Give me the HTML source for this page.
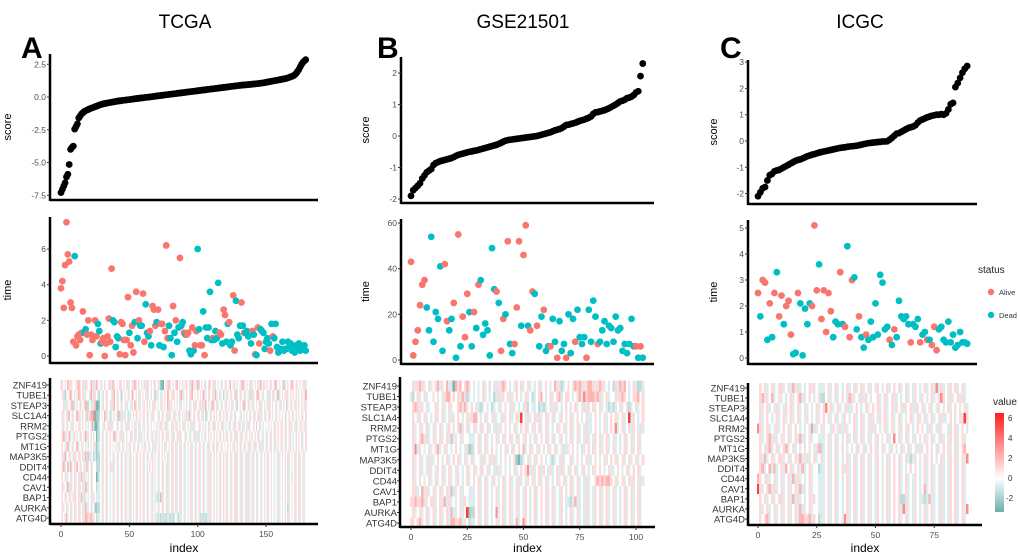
<!DOCTYPE html>
<html><head><meta charset="utf-8"><style>
html,body{margin:0;padding:0;background:#fff;}
svg{display:block;font-family:"Liberation Sans",sans-serif;}
</style></head><body>
<svg id="fig" width="1020" height="559" viewBox="0 0 1020 559" xmlns="http://www.w3.org/2000/svg">
<defs>
<linearGradient id="cbar" x1="0" y1="1" x2="0" y2="0">
<stop offset="0" stop-color="#6aafaf"/>
<stop offset="0.34" stop-color="#ffffff"/>
<stop offset="1" stop-color="#ff1f1f"/>
</linearGradient>
</defs>
<text x="185" y="28" font-size="19" text-anchor="middle">TCGA</text>
<text x="523" y="28" font-size="19" text-anchor="middle">GSE21501</text>
<text x="860" y="28" font-size="19" text-anchor="middle">ICGC</text>
<text x="21" y="58" font-size="30" font-weight="bold">A</text>
<text x="377" y="58" font-size="30" font-weight="bold">B</text>
<text x="720" y="58" font-size="30" font-weight="bold">C</text>
<g>
<text x="978" y="273" font-size="10" fill="#222">status</text>
<circle cx="991" cy="292" r="3.2" fill="#F8766D"/>
<text x="999" y="295" font-size="7.5" fill="#333">Alive</text>
<circle cx="991" cy="315" r="3.2" fill="#00BFC4"/>
<text x="999" y="318" font-size="7.5" fill="#333">Dead</text>
</g>
<g>
<text x="993" y="405" font-size="10" fill="#222">value</text>
<rect x="995" y="413" width="9" height="99" fill="url(#cbar)"/>
<text x="1008" y="421" font-size="8" fill="#333">6</text>
<text x="1008" y="441" font-size="8" fill="#333">4</text>
<text x="1008" y="461" font-size="8" fill="#333">2</text>
<text x="1008" y="481" font-size="8" fill="#333">0</text>
<text x="1006" y="501" font-size="8" fill="#333">-2</text>
</g>
<g id="plots"></g>
</svg>
<script>
const genes = ["ZNF419","TUBE1","STEAP3","SLC1A4","RRM2","PTGS2","MT1G","MAP3K5","DDIT4","CD44","CAV1","BAP1","AURKA","ATG4D"];
const levelValues = [-3,-2,-1.3,-0.6,0,0.8,1.8,3,5.5];

const scoreA = [-7.3,-7.05,-6.8,-6.55,-6.1,-5.9,-5.15,-4.0,-3.85,-3.75,
-2.45,-2.25,-2.05,-1.6,-1.45,-1.3,-1.2,-1.1,-1.05,-1.0,
-0.95,-0.9,-0.86,-0.82,-0.78,-0.74,-0.7,-0.66,-0.62,-0.58,
-0.55,-0.52,-0.5,-0.48,-0.46,-0.44,-0.42,-0.4,-0.38,-0.36,
-0.34,-0.32,-0.3,-0.29,-0.28,-0.26,-0.25,-0.24,-0.22,-0.21,
-0.2,-0.18,-0.17,-0.15,-0.14,-0.12,-0.11,-0.1,-0.08,-0.07,
-0.06,-0.05,-0.03,-0.02,-0.01,0.0,0.02,0.03,0.05,0.06,
0.08,0.09,0.1,0.12,0.13,0.14,0.16,0.17,0.18,0.2,
0.21,0.22,0.24,0.25,0.26,0.28,0.29,0.3,0.32,0.33,
0.34,0.36,0.37,0.38,0.4,0.41,0.42,0.44,0.45,0.46,
0.48,0.49,0.5,0.52,0.53,0.54,0.56,0.57,0.58,0.6,
0.61,0.62,0.64,0.65,0.66,0.68,0.69,0.7,0.72,0.73,
0.74,0.76,0.77,0.78,0.8,0.81,0.82,0.84,0.85,0.86,
0.88,0.89,0.9,0.91,0.92,0.93,0.94,0.95,0.96,0.97,
0.98,0.99,1.0,1.01,1.02,1.04,1.05,1.07,1.08,1.1,
1.12,1.14,1.16,1.18,1.2,1.22,1.24,1.26,1.28,1.3,
1.32,1.34,1.36,1.38,1.4,1.43,1.46,1.5,1.54,1.58,
1.62,1.7,1.8,1.95,2.1,2.3,2.5,2.65,2.75,2.85];
const timeA = [3.8,4.2,2.7,5.1,7.5,5.7,5.3,3.0,2.7,0.8,
5.6,0.6,1.1,1.2,0.9,1.3,2.5,1.3,1.5,1.2,
2.0,0.05,1.2,0.9,1.1,2.0,1.1,1.8,1.4,0.7,
0.8,1.0,0.0,0.7,1.1,2.1,0.8,4.9,2.0,1.9,
0.5,1.1,1.0,0.1,1.9,1.8,0.9,0.05,0.9,3.3,
1.3,0.6,1.7,0.2,1.9,3.6,1.0,2.0,1.7,1.7,
3.5,0.8,2.9,1.3,1.1,1.4,0.6,2.8,2.6,1.7,
1.9,2.6,0.6,1.8,1.8,0.5,1.4,6.2,1.0,1.7,
1.0,0.05,2.8,1.3,2.0,0.8,1.6,5.5,1.7,1.9,
1.3,1.2,1.2,1.3,0.3,0.1,1.6,0.3,0.6,1.4,
6.0,1.5,0.6,0.6,2.5,0.05,1.6,1.0,1.6,3.6,
0.9,1.0,0.9,1.4,1.0,4.1,1.3,1.2,0.7,2.6,
2.3,0.8,1.8,1.9,0.6,0.8,3.4,0.3,3.1,1.2,
1.0,1.7,3.0,1.7,1.3,1.3,1.4,1.1,1.3,0.7,
1.4,1.2,0.1,0.05,1.6,0.7,1.5,1.4,1.3,0.4,
0.8,1.0,0.7,0.3,1.8,1.1,1.0,1.8,0.5,0.2,
0.3,0.4,0.8,0.3,0.4,0.4,0.8,0.5,0.7,0.3,
0.5,0.2,0.6,0.4,0.7,0.3,0.5,0.4,0.6,0.3];
const statusA = "RRRRRRRRRRDRRRRRRDDRRRRRRRRDDDRRRRRRRRDDDDDRRRRRRRDRRRDRDRDDRRDDDRDRRRDRDRRDRRRDDDRDRDDRDDRDRRDDRDRRDDRRDRDDDDDRDDDDRRDRRDDRDDRRDDDDRDRDDDDDRDRDRRDDDDDDDRDRDDDDDDDDDDDDDDDDDDDDDD";
const heatA = [
"5543465534 4556345355 4463536543 3454455365 4345543453 3455634543 4535543455 4531004356 5434564345 4354536543 6543453456 4355434534 5345643543 4356543453 5434536453 4545345634 3452543456 5435434553",
"4352345634 5436545334 4363554324 3545344356 4534254345 3465434534 5435345432 3543345465 4355434563 3454356434 5434653453 4536345342 4354534563 4534534352 3545634534 4353453426 3454535434 5454345436",
"4453534562 5434534562 2435360014 3545343536 4534534353 4354634534 3545434535 4343545463 5345434534 5434534535 4353536434 5634534534 3543453452 4345634534 5343455343 4535434534 3543425435 4534543453",
"4534356453 4565345436 3566701124 5463542343 4562353342 3345453454 5345343534 4534534353 5435343543 4535634534 5343542345 3454345345 4534534534 4354343453 4534535343 5435434534 3454534545 3454345345",
"4354534353 4545345434 3451500134 4354353534 4534534353 5434534534 3543543454 5435343534 4354534543 5343453534 4534543453 4353454353 4345343534 5345343534 4542453434 3454345345 4534534535 4353453453",
"4563546343 5434534563 3454340224 5345345436 5343535434 4534534353 4345343543 5434534535 4353453534 4534534353 5343453454 3454345345 4534534535 4353453454 5434534534 5345345345 4534534534 3454345345",
"4543563453 4563453434 5434351234 5345345434 3453453454 5345343543 4534534353 3454345345 4534534534 5343453453 4534534353 4534534534 3454345345 4534534535 4353453534 5345343543 4534534534 3454345345",
"4536345345 5345345363 2534231224 5345343453 4534534534 3543453454 5345343543 4534543453 4354534534 5343453453 4534534353 3454345345 4534534535 4353453534 5345343543 4534543453 3454345345 4534534534",
"4563463634 5364534536 3453442224 5345345353 4534534534 3543453454 5343454543 4534534353 4354534534 5343453453 4534534353 3454345345 4534534535 4353453534 5345343543 4534543453 3454345345 4534534534",
"4543534534 5345363534 3453440134 5345343453 4534534534 3543453454 5345343543 4534534353 4354534534 5343453453 4534534353 3454345345 4534534535 4353453534 5345343543 4534543453 3454345342 4534534534",
"4534563534 5345345363 3453442334 5345343453 4534534534 3543453454 5345343543 4534534353 4354534534 5343453453 4534534353 3454345345 4534534535 4353453534 5345343543 4534543453 3454345345 4534534534",
"4545345345 5345363534 3453543334 5345343453 4534534534 3543453454 5345343543 3236334353 4354534534 5343453453 4534534353 3454345345 4534534535 4353453534 5345343543 4534543453 3454345345 4534534534",
"4534534534 5345345363 3453411224 5345343453 4534534534 3543453454 5345343543 4534534353 4354534534 5343453453 4534534353 3454345345 4534534535 4353453534 5345343543 4534543453 3454342345 4534534534",
"4545634534 5345345366 5563542334 5345343453 4534534534 3543453454 5345343543 3232323233 2323432334 5343453453 4523232353 3454345345 4534534535 4353453534 5345343543 4534543453 3454345345 4534534534"];

const scoreB = [-1.9,-1.72,-1.65,-1.58,-1.5,-1.35,-1.25,-1.15,-1.1,-1.05,
-0.92,-0.86,-0.83,-0.8,-0.78,-0.76,-0.74,-0.72,-0.7,-0.67,
-0.63,-0.6,-0.58,-0.56,-0.54,-0.52,-0.5,-0.49,-0.47,-0.46,
-0.44,-0.42,-0.4,-0.38,-0.36,-0.34,-0.32,-0.3,-0.28,-0.25,
-0.22,-0.18,-0.15,-0.13,-0.12,-0.11,-0.1,-0.09,-0.08,-0.07,
-0.06,-0.05,-0.04,-0.03,-0.02,-0.01,0.0,0.02,0.04,0.06,
0.08,0.1,0.12,0.15,0.18,0.2,0.22,0.25,0.3,0.35,
0.36,0.38,0.4,0.42,0.45,0.48,0.5,0.52,0.55,0.58,
0.62,0.7,0.75,0.76,0.78,0.8,0.82,0.85,0.88,0.92,
0.96,1.0,1.05,1.1,1.12,1.15,1.2,1.22,1.25,1.3,
1.38,1.42,1.9,2.3];
const timeB = [43,2,8,13,24,33,35,23,13,54,8,21,18,41,4,42,17,13,18,25,1,55,6,19,10,29,21,6,21,14,33,35,11,16,13,2,49,31,30,25,4,18,20,52,7,3,7,23,52,15,46,59,15,13,30,29,15,6,19,22,4,6,6,18,8,1,17,4,7,1,20,3,18,8,22,10,7,10,1,22,8,26,19,7,8,13,17,7,15,14,8,19,13,14,4,7,3,7,18,6,6,1,6,1];
const statusB = "RRRRRRRDDDDDDDDRRDDRDRDRRRDDRDRDDDDDDDRDRRDRDDRRRDRRDRRDRDDRDDRDDRDDDRDDDRDDDDRDDDDRDDDDDDDDDDDDDDDDRDR";
const heatB = [
"4535653453 4563546350 6564565434 3453454353 5654343545 3453434534 5434653234 5436565356 6535653434 2536564345 3223",
"3245345344 5434356645 4536523434 3453434235 3543534543 4534234564 3453456345 5434563756 6656534534 4535654345 5645",
"4565354334 4534534534 4565634543 3234342343 3454353434 3524334232 3453534345 4345343535 4534534323 2345345234 5345",
"4543545343 4534534353 4543453566 4345343534 3534534538 4353453534 5345343543 4534543453 3454345345 4534534835 4345",
"4534534534 5345343543 4563453453 4534534353 3454345345 4534534534 5343453453 4534534353 3454345345 4734534535 4353",
"4534563534 5345345363 3453443334 5345343453 4534534534 3543453454 5345343543 4534534353 4354534534 5343453453 4534",
"4373543453 4563453434 5434351234 5345345434 3453453454 6345343543 4534534353 3454345345 4534534534 5343453453 4534",
"4534534353 3454345345 4534534534 4353453534 3454345102 3453453454 3432343534 4534543453 3454345345 4534534534 5345",
"4534534353 4354534534 5343453453 4534534353 3434345345 4573534535 4353453534 5345343543 4534543453 3454345345 4534",
"4534543453 4534534534 3543453454 5345343543 4534534353 4354534534 5343453453 4534534353 4456565665 4534534535 4353",
"4553463534 5345345363 3453443334 5345343453 4534534534 3543453454 5345343543 4534534353 4354534534 5343453453 4534",
"5565565345 5345363534 3453543334 5345343453 4534534534 3543453454 5345343543 3236334353 4354534534 5343453453 4534",
"4534534534 5345345363 3453481224 5345343473 4534534534 3543453454 5345343543 4534534353 4354534534 5343453453 4534",
"5545634534 5345345366 5563542334 5345343453 4534534634 7543453454 5345343543 4534534353 4354534534 5343453453 4534"];

const scoreC = [-2.1,-1.95,-1.8,-1.75,-1.5,-1.3,-1.25,-1.15,-1.12,-1.1,
-1.05,-1.0,-0.95,-0.9,-0.85,-0.8,-0.75,-0.72,-0.7,-0.66,
-0.62,-0.58,-0.55,-0.52,-0.5,-0.47,-0.44,-0.42,-0.4,-0.38,
-0.36,-0.34,-0.32,-0.3,-0.28,-0.26,-0.25,-0.24,-0.22,-0.21,
-0.2,-0.19,-0.18,-0.16,-0.14,-0.12,-0.1,-0.08,-0.07,-0.06,
-0.05,-0.04,-0.03,-0.02,-0.02,-0.01,0.05,0.12,0.2,0.28,
0.3,0.35,0.4,0.45,0.5,0.52,0.55,0.6,0.7,0.78,
0.82,0.86,0.9,0.93,0.96,0.98,1.0,1.0,1.02,1.0,
1.05,1.2,1.4,1.45,2.05,2.2,2.4,2.6,2.75,2.85];
const timeC = [2.5,1.6,3.0,2.9,0.7,2.1,0.8,2.5,3.3,1.6,2.4,1.3,2.0,2.2,0.9,0.15,0.2,2.5,2.1,0.1,1.9,1.3,2.1,2.0,5.1,2.6,3.6,1.5,2.6,1.0,2.5,1.8,0.8,1.4,1.3,3.3,1.3,1.2,4.3,0.8,3.0,3.1,1.1,1.6,0.8,0.4,0.9,0.7,1.4,0.8,2.1,0.9,3.2,2.9,1.1,1.2,0.7,0.5,1.1,0.8,2.2,1.6,1.5,1.6,1.3,0.6,1.3,1.2,1.5,0.6,0.9,1.0,0.7,0.7,0.5,1.2,0.3,1.1,1.2,0.7,0.6,1.4,0.6,0.9,0.4,0.5,1.0,0.6,0.6,0.55];
const statusC = "RDRRDRDRDRRDRRRDDRDDDDDRRRDRRRRRDDDRDRDRRDDRDDRDDDDDDDDDRDRDDDDDDRDDDRDDRDRRRDDDDDDDDDDDDDD";
const heatC = [
"4545345345 5345363534 3453543334 5345343453 4534534534 3543453454 5345343543 4534537353 4354534534",
"4563546343 5434534563 3454345224 5345345436 5343535434 4534534353 4345343543 5434534575 4353453534",
"4534534353 4354534534 5343453457 4534534353 3454345345 4534534535 4353453534 5345343543 4534543453",
"4534543453 4534534534 3543453454 5345343543 4534534353 4354534534 5343453453 4534534353 3454345385",
"7534534353 4545345434 3451534534 4354353534 4534534353 5434534534 3543543454 5435343534 4354534543",
"4534563534 5345345363 3453443334 5345343453 4534534534 3543453474 5345343543 4534534353 4354534534",
"4543563453 4563453434 5434356234 5345345434 3453453454 5345343543 4534534353 3454345345 4534534564",
"4536345345 5345345363 3534534534 5345343453 4534534534 3543453454 5345323543 4534543453 4354534537",
"4563463634 5364534536 3453442334 5345345353 4534534534 3543453454 5343454543 4534534353 4354534534",
"6543534534 5345363534 3453443334 5345343453 4534534534 3543453454 5345343543 4534534353 4354534534",
"8534563534 5345345363 3453443334 5345343453 4534534534 3543453454 5345343543 4634534353 4354534534",
"4545345345 5345363534 3453543334 5345343453 4534534534 3543453454 5225343543 3236334353 4354534534",
"4534534534 5345345363 3453443334 5345343453 4534534534 3543453454 5375343543 4534534353 4354534537",
"4545634534 5345345366 5563542334 5345343753 4534534534 3543453454 5345343543 4534534353 4354534534"];

const scoreTicksA = [2.5,0,-2.5,-5,-7.5], scoreTickLabelsA = ["2.5","0.0","-2.5","-5.0","-7.5"];
const timeTicksA = [0,2,4,6], indexTicksA = [0,50,100,150];
const scoreTicksB = [2,1,0,-1,-2], timeTicksB = [0,20,40,60], indexTicksB = [0,25,50,75,100];
const scoreTicksC = [3,2,1,0,-1,-2], timeTicksC = [0,1,2,3,4,5], indexTicksC = [0,25,50,75];

const NS = "http://www.w3.org/2000/svg";
const root = document.getElementById("plots");
function mk(tag, attrs, parent){const e=document.createElementNS(NS,tag);for(const k in attrs)e.setAttribute(k,attrs[k]);(parent||root).appendChild(e);return e;}
function mix(a,b,t){return Math.round(a+(b-a)*t);}
function heatColor(v){
  if(v>=0){const t=Math.pow(Math.min(1,v/6.5),0.85);return `rgb(255,${mix(255,31,t)},${mix(255,31,t)})`;}
  const t=Math.pow(Math.min(1,-v/3.4),0.85);return `rgb(${mix(255,106,t)},${mix(255,175,t)},${mix(255,175,t)})`;
}

function panel(cfg){
  const g = mk("g",{});
  
  
  const xs = i => cfg.x0 + i*cfg.dx;
  const ys = v => cfg.s0 - v*cfg.sk;
  const yt = v => cfg.t0 - v*cfg.tk;
  const ax = cfg.ax;
  mk("line",{x1:ax,y1:cfg.sTop,x2:ax,y2:cfg.sBot+1,stroke:"#000","stroke-width":2.5},g);
  mk("line",{x1:ax,y1:cfg.sBot,x2:cfg.xEnd,y2:cfg.sBot,stroke:"#000","stroke-width":2.5},g);
  cfg.scoreTicks.forEach((t,k)=>{
    const y=ys(t);
    mk("line",{x1:ax-3,y1:y,x2:ax,y2:y,stroke:"#333","stroke-width":1},g);
    const tx=mk("text",{x:ax-4,y:y+3,"font-size":8.5,"text-anchor":"end",fill:"#4d4d4d"},g);
    tx.textContent = cfg.scoreLabels ? cfg.scoreLabels[k] : String(t);
    
    
  });
  const sl=mk("text",{x:0,y:0,"font-size":11,"text-anchor":"middle",transform:`translate(${cfg.labX},${(cfg.sTop+cfg.sBot)/2}) rotate(-90)`},g);
  sl.textContent="score";
  
  
  cfg.score.forEach((v,i)=>{
    const c=mk("circle",{cx:xs(i),cy:ys(v),r:cfg.r,fill:"#000"},g);
    
    
  });
  mk("line",{x1:ax,y1:cfg.tTop,x2:ax,y2:cfg.tBot+1,stroke:"#000","stroke-width":2.5},g);
  mk("line",{x1:ax,y1:cfg.tBot,x2:cfg.xEnd,y2:cfg.tBot,stroke:"#000","stroke-width":2.5},g);
  cfg.timeTicks.forEach(t=>{
    const y=yt(t);
    mk("line",{x1:ax-3,y1:y,x2:ax,y2:y,stroke:"#333","stroke-width":1},g);
    const tx=mk("text",{x:ax-4,y:y+3,"font-size":8.5,"text-anchor":"end",fill:"#4d4d4d"},g);
    tx.textContent=String(t);
    
    
  });
  const tl=mk("text",{x:0,y:0,"font-size":11,"text-anchor":"middle",transform:`translate(${cfg.labX},${(cfg.tTop+cfg.tBot)/2}) rotate(-90)`},g);
  tl.textContent="time";
  
  
  cfg.time.forEach((v,i)=>{
    const c=mk("circle",{cx:xs(i),cy:yt(v),r:cfg.r,fill:cfg.status[i]==="R"?"#F8766D":"#00BFC4"},g);
    
    
  });
  const hg = mk("g",{"shape-rendering":"crispEdges"},g);
  
  
  cfg.heat.forEach((rowStr,r)=>{
    const s=rowStr.replace(/ /g,"");
    const yc=cfg.h0+r*cfg.hs;
    for(let i=0;i<cfg.score.length;i++){
      const lvl = i<s.length ? +s[i] : 4;
      const cell=mk("rect",{x:xs(i)-cfg.dx/2,y:yc-cfg.hs/2,width:cfg.dx+0.4,height:cfg.hs+0.4,fill:heatColor(levelValues[lvl])},hg);
      
      
    }
    mk("line",{x1:cfg.hax-3,y1:yc,x2:cfg.hax,y2:yc,stroke:"#333","stroke-width":1},g);
    const gl=mk("text",{x:cfg.hax-3,y:yc+3.5,"font-size":9.5,"text-anchor":"end",fill:"#333"},g);
    gl.textContent=genes[r];
    
    
  });
  mk("line",{x1:cfg.hax,y1:cfg.hTop,x2:cfg.hax,y2:cfg.hBot+1,stroke:"#000","stroke-width":2.5},g);
  mk("line",{x1:cfg.hax,y1:cfg.hBot,x2:cfg.hxEnd,y2:cfg.hBot,stroke:"#000","stroke-width":2.5},g);
  cfg.indexTicks.forEach(t=>{
    const x=xs(t);
    mk("line",{x1:x,y1:cfg.hBot,x2:x,y2:cfg.hBot+3,stroke:"#333","stroke-width":1},g);
    const tx=mk("text",{x:x,y:cfg.hBot+13,"font-size":8.5,"text-anchor":"middle",fill:"#4d4d4d"},g);
    tx.textContent=String(t);
    
    
  });
  const il=mk("text",{x:(cfg.hax+cfg.hxEnd)/2,y:552,"font-size":12,"text-anchor":"middle"},g);
  il.textContent="index";
  
  
}

panel({name:"tcga",score:scoreA,time:timeA,status:statusA,heat:heatA,
  x0:61,dx:1.367,ax:50,xEnd:318,labX:11,r:3.4,
  sTop:54,sBot:200,s0:97,sk:13.1,scoreTicks:scoreTicksA,scoreLabels:scoreTickLabelsA,
  tTop:217,tBot:363,t0:356,tk:17.83,timeTicks:timeTicksA,
  h0:385,hs:10.23,hax:50,hTop:378,hBot:524,hxEnd:318,indexTicks:indexTicksA});
panel({name:"gse21501",score:scoreB,time:timeB,status:statusB,heat:heatB,
  x0:411,dx:2.25,ax:401,xEnd:654,labX:369,r:3.4,
  sTop:57,sBot:203,s0:136,sk:31.5,scoreTicks:scoreTicksB,
  tTop:219,tBot:364,t0:360,tk:2.283,timeTicks:timeTicksB,
  h0:386,hs:10.54,hax:400,hTop:377,hBot:527,hxEnd:655,indexTicks:indexTicksB});
panel({name:"icgc",score:scoreC,time:timeC,status:statusC,heat:heatC,
  x0:758,dx:2.35,ax:748,xEnd:977,labX:717,r:3.4,
  sTop:60,sBot:204,s0:141,sk:26.3,scoreTicks:scoreTicksC,
  tTop:220,tBot:364,t0:358,tk:26,timeTicks:timeTicksC,
  h0:388,hs:10.08,hax:748,hTop:383,hBot:525,hxEnd:982,indexTicks:indexTicksC});
</script>
</body></html>
